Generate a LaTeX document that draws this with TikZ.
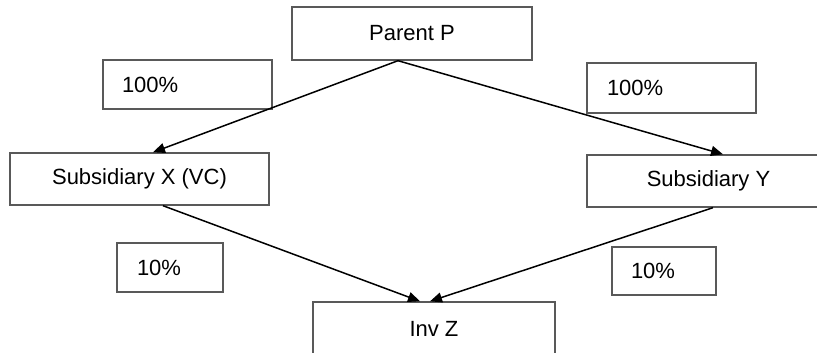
\documentclass[tikz,border=0pt]{standalone}
\usepackage{fontspec}
\setmainfont{Liberation Sans}
\usetikzlibrary{arrows.meta}
\begin{document}
\begin{tikzpicture}[x=1pt,y=1pt,
  box/.style={draw=black!65, line width=1.4pt, rectangle, inner sep=0pt,
    font=\fontsize{22}{26}\selectfont, text=black},
  pct/.style={box, align=left, inner ysep=0pt},
  arr/.style={draw=black, line width=1.5pt, -{Triangle[length=12pt,width=10pt]}}]
\useasboundingbox (0,0) rectangle (817,-353);
\fill[white] (0,0) rectangle (817,-353);
% main boxes
\node[box, minimum width=240pt, minimum height=53pt] (P) at (412,-33.5) {Parent P};
\node[box, minimum width=259pt, minimum height=52pt] (X) at (139.5,-179) {Subsidiary X (VC)};
\node[box, minimum width=243pt, minimum height=52pt] (Y) at (708.5,-181) {Subsidiary Y};
\node[box, minimum width=242pt, minimum height=54pt] (Z) at (434,-329) {Inv Z};
% percentage boxes
\node[pct, minimum width=169pt, minimum height=49pt, inner xsep=19pt, text width=131pt] (p1) at (187.5,-84.5) {100\%};
\node[pct, minimum width=169pt, minimum height=50pt, inner xsep=20pt, text width=129pt] (p2) at (671.5,-88) {100\%};
\node[pct, minimum width=106pt, minimum height=49pt, inner xsep=20pt, text width=66pt] (p3) at (170,-267.5) {10\%};
\node[pct, minimum width=104pt, minimum height=48pt, inner xsep=19pt, text width=66pt] (p4) at (664,-271) {10\%};
% connectors
\draw[arr] ([xshift=-14pt]P.south) -- ([xshift=13.5pt]X.north);
\draw[arr] ([xshift=-14pt]P.south) -- ([xshift=14.5pt]Y.north);
\draw[arr] ([xshift=23.5pt]X.south) -- ([xshift=-14pt]Z.north);
\draw[arr] ([xshift=4.5pt]Y.south) -- ([xshift=-4pt]Z.north);
\end{tikzpicture}
\end{document}
